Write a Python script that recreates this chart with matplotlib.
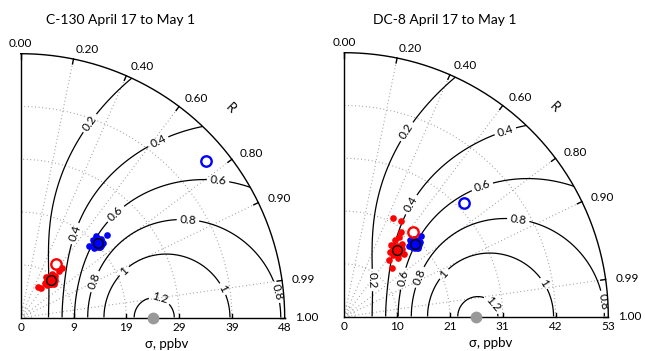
import numpy as np
import matplotlib.pyplot as plt
from matplotlib.patches import Wedge

plt.rcParams['font.family'] = ['Lato', 'DejaVu Sans']

# observed standard deviation (reference point), ppbv
c130_ref = 24.2
dc8_ref = 26.3

c130_ticks = ["0", "9", "19", "29", "39", "48"]
dc8_ticks = ["0", "10", "21", "31", "42", "53"]

corr_ticks = [0.0, 0.2, 0.4, 0.6, 0.8, 0.9, 0.99, 1.0]
corr_labels = ["0.00", "0.20", "0.40", "0.60", "0.80", "0.90", "0.99", "1.00"]
skill_levels = [0.2, 0.4, 0.6, 0.8, 1.0, 1.2]
r0 = 0.9  # maximum attainable correlation in the skill score

# C-130: (sigma in ppbv, correlation)
c130_blue_open_sd, c130_blue_open_r = 44.5, 0.764
c130_blue_mean_sd, c130_blue_mean_r = 19.7, 0.716
c130_blue_sd = [19.5, 20.6, 18.5, 19.4, 18.2, 20.3, 20.4, 21.9, 19.9, 19.0]
c130_blue_r = [0.678, 0.716, 0.727, 0.748, 0.687, 0.742, 0.675, 0.723, 0.700, 0.710]
c130_red_open_sd, c130_red_open_r = 11.7, 0.551
c130_red_mean_sd, c130_red_mean_r = 8.8, 0.626
c130_red_sd = [11.9, 11.1, 6.5, 6.6, 8.7, 9.9, 7.7, 8.7, 7.8, 9.9, 9.2, 8.2]
c130_red_r = [0.643, 0.637, 0.491, 0.553, 0.530, 0.630, 0.619, 0.696, 0.566, 0.576, 0.600, 0.650]

# DC-8
dc8_blue_open_sd, dc8_blue_open_r = 32.9, 0.723
dc8_red_open_sd, dc8_red_open_r = 21.7, 0.627
dc8_blue_mean_sd, dc8_blue_mean_r = 20.2, 0.694
dc8_blue_sd = [22.1, 20.1, 20.0, 19.3, 21.1, 19.0, 20.8, 19.8]
dc8_blue_r = [0.689, 0.650, 0.731, 0.697, 0.712, 0.675, 0.670, 0.715]
dc8_red_mean_sd, dc8_red_mean_r = 16.9, 0.622
dc8_red_sd = [21.9, 22.1, 19.3, 13.6, 17.0, 15.6, 18.4, 17.2, 18.3, 15.7, 15.8, 20.2, 14.3, 16.5, 17.8]
dc8_red_r = [0.443, 0.507, 0.566, 0.700, 0.546, 0.620, 0.622, 0.689, 0.552, 0.577, 0.675, 0.556, 0.619, 0.590, 0.650]

W, H = 646, 351
PX = 132.0  # pixels per normalised sigma unit
GRID = dict(color='0.6', lw=0.8, dashes=(0.8, 2.4))


def xy(sd, r):
    sd = np.asarray(sd, dtype=float)
    r = np.asarray(r, dtype=float)
    return sd * r, sd * np.sqrt(1 - r ** 2)


def taylor(fig, ox, oy, title, ref, ticks, label_pos):
    ax = fig.add_axes([ox / W, (H - oy) / H, 2 * PX / W, 2 * PX / H])
    ax.set_xlim(0, 2)
    ax.set_ylim(0, 2)
    ax.axis('off')
    d = 1 / PX

    # dotted grid: radial correlation lines and sigma arcs
    for c in corr_ticks[1:-1]:
        ax.plot([0, 2 * c], [0, 2 * np.sqrt(1 - c ** 2)], **GRID)
    th = np.linspace(0, np.pi / 2, 200)
    for s in [0.04, 0.08, 0.4, 0.8, 1.2, 1.6]:
        ax.plot(s * np.cos(th), s * np.sin(th), **GRID)

    # skill score contours
    g = np.linspace(0.001, 2.05, 500)
    X, Y = np.meshgrid(g, g)
    S_ = np.hypot(X, Y)
    R_ = X / S_
    skill = 4 * (1 + R_) ** 4 / ((S_ + 1 / S_) ** 2 * (1 + r0) ** 4)
    cs = ax.contour(X, Y, skill, levels=skill_levels, colors='k', linewidths=0.9)
    clip = Wedge((0, 0), 2, 0, 90, transform=ax.transData, facecolor='none', edgecolor='none')
    ax.add_patch(clip)
    cs.set_clip_path(clip)
    ax.clabel(cs, fmt='%g', fontsize=8.5, inline=True, inline_spacing=3, manual=label_pos)

    # frame
    ax.plot(2 * np.cos(th), 2 * np.sin(th), color='k', lw=1.0, clip_on=False)
    ax.plot([0, 2], [0, 0], color='k', lw=1.0, clip_on=False)
    ax.plot([0, 0], [0, 2], color='k', lw=1.0, clip_on=False)

    # correlation ticks and labels
    for c, lab in zip(corr_ticks, corr_labels):
        a = np.arccos(c)
        ax.plot([2 * c, (2 - 5 * d) * c], [2 * np.sin(a), (2 - 5 * d) * np.sin(a)],
                color='k', lw=1.0, clip_on=False)
        rl = 2 + 10 * d
        ax.text(rl * c, rl * np.sin(a), lab, fontsize=8.5,
                ha='center' if c == 0 else 'left', va='center')
    ax.text(2.25 * np.cos(np.pi / 4), 2.25 * np.sin(np.pi / 4), 'R', fontsize=9.5,
            rotation=-45, ha='center', va='center')

    # sigma ticks and labels
    for i, lab in enumerate(ticks):
        x = 0.4 * i
        if 0 < i < len(ticks) - 1:
            ax.plot([x, x], [0, 4 * d], color='k', lw=1.0)
        ax.text(x, -9.5 * d, lab, fontsize=8.5, ha='center', va='center')
    ax.text(146 * d, -26 * d, 'σ, ppbv', fontsize=9.5, ha='center', va='center')

    # reference point
    ax.plot([1.0], [0.0], 'o', color='#999999', ms=8.5, mec='none', clip_on=False, zorder=10)

    fig.text((ox + 100) / W, (H - 20) / H, title, fontsize=10, ha='center', va='center')
    return ax


def points(ax, ref, sd, r, color):
    x, y = xy(np.asarray(sd) / ref, r)
    ax.plot(x, y, 'o', color=color, ms=4.8, mec='none', zorder=5)


def mean(ax, ref, sd, r, color):
    x, y = xy([sd / ref], [r])
    ax.plot(x, y, 'o', color=color, ms=10.5, mec='none', zorder=6)
    ax.plot(x, y, 'o', mfc='none', mec='k', ms=7, mew=1.0, zorder=7)


def open_pt(ax, ref, sd, r, color):
    x, y = xy([sd / ref], [r])
    ax.plot(x, y, 'o', mfc='none', mec=color, ms=7.5, mew=1.7, zorder=7)


fig = plt.figure(figsize=(W / 100, H / 100), dpi=100)

left_labels = [(0.525, 1.473), (1.042, 1.333), (1.495, 1.043), (1.267, 0.740),
               (1.563, 0.233), (1.055, 0.149), (0.563, 0.273), (0.777, 0.361),
               (0.714, 0.793), (0.398, 0.642), (1.949, 0.197)]
ax1 = taylor(fig, 20.7, 317.7, 'C-130 April 17 to May 1', c130_ref, c130_ticks, left_labels)
points(ax1, c130_ref, c130_red_sd, c130_red_r, 'red')
mean(ax1, c130_ref, c130_red_mean_sd, c130_red_mean_r, 'red')
open_pt(ax1, c130_ref, c130_red_open_sd, c130_red_open_r, 'red')
points(ax1, c130_ref, c130_blue_sd, c130_blue_r, 'blue')
mean(ax1, c130_ref, c130_blue_mean_sd, c130_blue_mean_r, 'blue')
open_pt(ax1, c130_ref, c130_blue_open_sd, c130_blue_open_r, 'blue')

right_labels = [(0.473, 1.402), (1.217, 1.414), (1.041, 0.998), (1.318, 0.733),
                (1.533, 0.265), (1.117, 0.089), (0.750, 0.329), (0.561, 0.303),
                (0.435, 0.291), (0.220, 0.278), (0.511, 0.846), (1.962, 0.114)]
ax2 = taylor(fig, 344.3, 316.7, 'DC-8 April 17 to May 1', dc8_ref, dc8_ticks, right_labels)
points(ax2, dc8_ref, dc8_red_sd, dc8_red_r, 'red')
mean(ax2, dc8_ref, dc8_red_mean_sd, dc8_red_mean_r, 'red')
open_pt(ax2, dc8_ref, dc8_red_open_sd, dc8_red_open_r, 'red')
points(ax2, dc8_ref, dc8_blue_sd, dc8_blue_r, 'blue')
mean(ax2, dc8_ref, dc8_blue_mean_sd, dc8_blue_mean_r, 'blue')
open_pt(ax2, dc8_ref, dc8_blue_open_sd, dc8_blue_open_r, 'blue')

fig.savefig('out.png', dpi=100)
